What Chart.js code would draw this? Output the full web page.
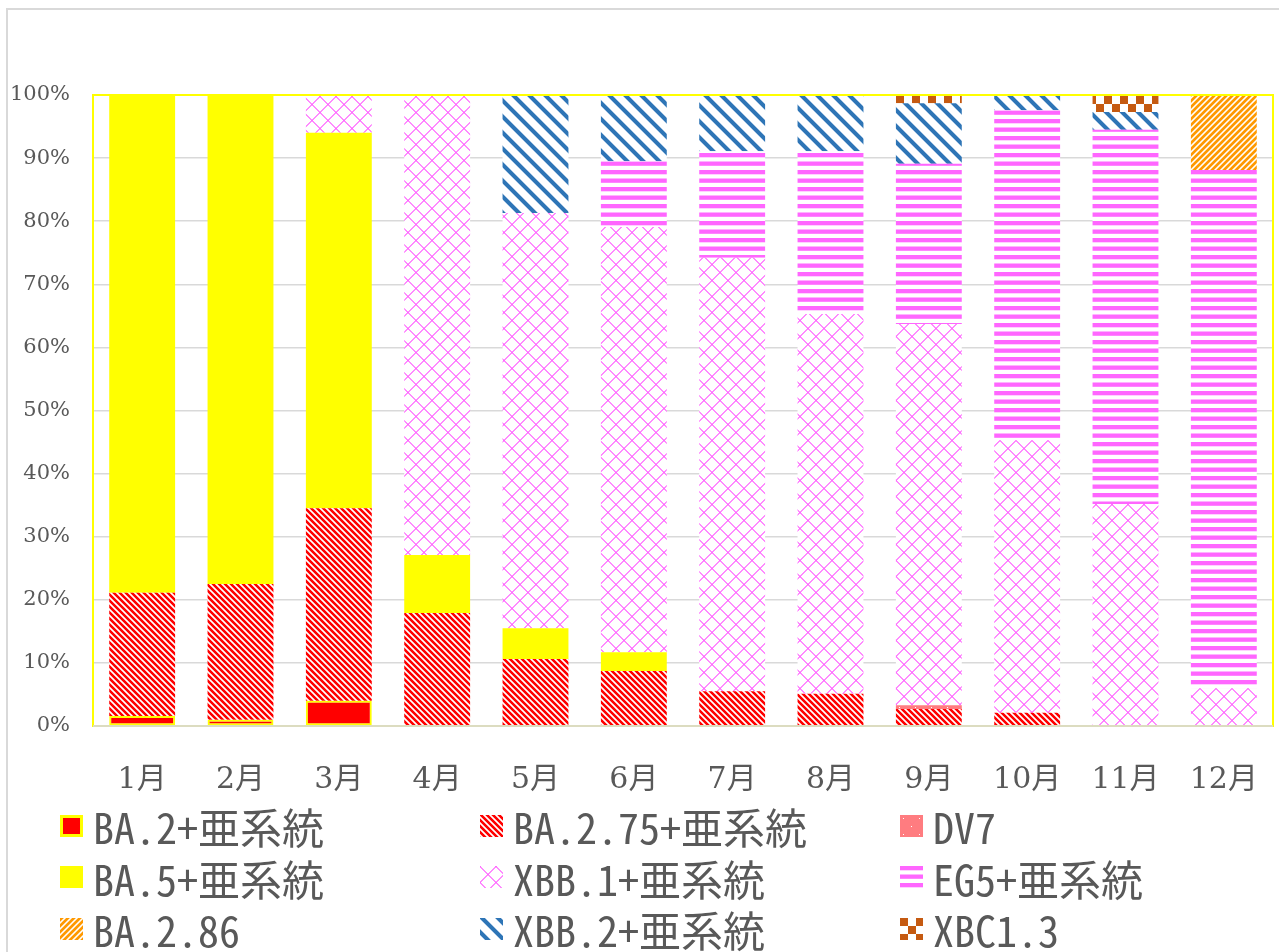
<!DOCTYPE html>
<html>
<head>
<meta charset="utf-8">
<script src="https://cdn.jsdelivr.net/npm/chart.js@4/dist/chart.umd.min.js"></script>
<style>
  html, body { margin: 0; padding: 0; background: #fff; overflow: hidden; }
  #wrap { position: relative; width: 1279px; height: 952px; overflow: hidden; }
  #frame { position: absolute; left: 6px; top: 8px; width: 1300px; height: 980px; border: 2px solid #d9d9d9; box-sizing: border-box; }
  #variant-chart { position: absolute; left: 0; top: 0; }
  #legend {
    position: absolute; left: 60px; top: 800px;
    display: grid; grid-template-columns: 420px 420px 379px; grid-auto-rows: 51.5px;
  }
  .legend__item { display: flex; align-items: center; }
  .legend__swatch { width: 23px; height: 22px; margin-right: 10px; box-sizing: border-box; }
  .legend__text {
    font-family: "Noto Sans Mono CJK JP", "Noto Sans CJK JP", monospace;
    font-size: 42px; line-height: 51px; color: #595959; white-space: nowrap;
  }
</style>
</head>
<body>
<div id="wrap">
  <div id="frame"></div>
  <canvas id="variant-chart" width="1279" height="952"></canvas>
  <div id="legend"></div>
</div>
<script>
const months = ["1月", "2月", "3月", "4月", "5月", "6月", "7月", "8月", "9月", "10月", "11月", "12月"];

const ba2 = [1.6, 1.0, 4.0, null, null, null, null, null, null, null, null, null];
const ba275 = [19.5, 21.5, 30.5, 17.9, 10.6, 8.7, 5.5, 5.1, 2.7, 2.1, 0, 0];
const dv7 = [0, 0, 0, 0, 0, 0, 0, 0, 0.6, 0, 0, 0];
const ba5 = [78.9, 77.5, 59.5, 9.2, 4.9, 3.0, 0, 0, 0, 0, 0, 0];
const xbb1 = [0, 0, 6.0, 72.9, 65.8, 67.4, 68.7, 60.2, 60.4, 43.2, 35.2, 6.0];
const eg5 = [0, 0, 0, 0, 0, 10.4, 16.9, 25.8, 25.4, 52.3, 59.3, 82.1];
const ba286 = [0, 0, 0, 0, 0, 0, 0, 0, 0, 0, 0, 11.9];
const xbb2 = [0, 0, 0, 0, 18.7, 10.5, 8.9, 8.9, 9.6, 2.4, 2.8, 0];
const xbc13 = [0, 0, 0, 0, 0, 0, 0, 0, 1.3, 0, 2.7, 0];

const yTicks = [0, 10, 20, 30, 40, 50, 60, 70, 80, 90, 100];

// small tiles for the excel style fill patterns
function makeTile(w, h, draw) {
  const c = document.createElement("canvas");
  c.width = w;
  c.height = h;
  const g = c.getContext("2d");
  g.fillStyle = "#fff";
  g.fillRect(0, 0, w, h);
  draw(g, w, h);
  return c;
}

function diagonalTile(color, light, period, width, up) {
  return makeTile(period, period, (g) => {
    for (let y = 0; y < period; y++) {
      for (let x = 0; x < period; x++) {
        const d = ((((up ? x + y : x - y)) % period) + period) % period;
        if (d < width) g.fillStyle = color;
        else if (d === width || d === period - 1) g.fillStyle = light;
        else continue;
        g.fillRect(x, y, 1, 1);
      }
    }
  });
}

const tiles = {
  solidRed: makeTile(4, 4, (g) => { g.fillStyle = "#ff0000"; g.fillRect(0, 0, 4, 4); }),
  redDown: diagonalTile("#ff0000", "#ffb3b3", 6, 3, false),
  dv7: makeTile(16, 16, (g) => {
    g.fillStyle = "#ff7c80";
    g.fillRect(0, 0, 16, 16);
    g.fillStyle = "#fff";
    g.fillRect(3, 3, 1, 1);
    g.fillRect(11, 11, 1, 1);
  }),
  solidYellow: makeTile(4, 4, (g) => { g.fillStyle = "#ffff00"; g.fillRect(0, 0, 4, 4); }),
  lattice: makeTile(16, 16, (g) => {
    g.fillStyle = "rgba(255, 90, 255, 0.7)";
    for (let i = 0; i < 16; i++) {
      g.fillRect(i, i, 1, 1);
      g.fillRect(i, (i + 1) % 16, 1, 1);
      g.fillRect(i, 15 - i, 1, 1);
      g.fillRect(i, (16 - i) % 16, 1, 1);
    }
  }),
  eg5: makeTile(4, 17, (g) => {
    g.fillStyle = "#ff66ff";
    g.fillRect(0, 0, 4, 4.3);
    g.fillRect(0, 8.5, 4, 4.3);
  }),
  orangeUp: diagonalTile("#ff9900", "#ffd699", 6, 3, true),
  blueDown: diagonalTile("#2e75b6", "#a9c6e3", 16, 5, false),
  checker: makeTile(16, 16, (g) => {
    g.fillStyle = "#c55a11";
    g.fillRect(0, 0, 8, 8);
    g.fillRect(8, 8, 8, 8);
  }),
};

const ctx = document.getElementById("variant-chart").getContext("2d");
const pat = (t) => ctx.createPattern(t, "repeat");

const series = [
  { label: "BA.2+亜系統", data: ba2, tile: tiles.solidRed, border: "#ffff00" },
  { label: "BA.2.75+亜系統", data: ba275, tile: tiles.redDown },
  { label: "DV7", data: dv7, tile: tiles.dv7 },
  { label: "BA.5+亜系統", data: ba5, tile: tiles.solidYellow },
  { label: "XBB.1+亜系統", data: xbb1, tile: tiles.lattice },
  { label: "EG5+亜系統", data: eg5, tile: tiles.eg5 },
  { label: "BA.2.86", data: ba286, tile: tiles.orangeUp },
  { label: "XBB.2+亜系統", data: xbb2, tile: tiles.blueDown },
  { label: "XBC1.3", data: xbc13, tile: tiles.checker },
];

const plotFrame = {
  id: "plotFrame",
  afterDatasetsDraw(chart) {
    const a = chart.chartArea;
    const g = chart.ctx;
    g.save();
    g.strokeStyle = "#ffff00";
    g.lineWidth = 2;
    g.strokeRect(a.left, a.top, a.right - a.left, a.bottom - a.top);
    g.strokeStyle = "#dcdcc0";
    g.beginPath();
    g.moveTo(a.left, a.bottom);
    g.lineTo(a.right, a.bottom);
    g.stroke();
    g.restore();
  },
};

const serif = "'DejaVu Serif', 'Liberation Serif', 'Noto Sans CJK JP', serif";

new Chart(ctx, {
  type: "bar",
  data: {
    labels: months,
    datasets: series.map((s) => ({
      label: s.label,
      data: s.data,
      backgroundColor: pat(s.tile),
      borderColor: s.border || "rgba(0,0,0,0)",
      borderWidth: s.border ? 2 : 0,
      borderSkipped: false,
      categoryPercentage: 1,
      barPercentage: 0.67,
    })),
  },
  options: {
    responsive: false,
    animation: false,
    layout: { padding: { left: 0, top: 95, right: 6, bottom: 146 } },
    plugins: { legend: { display: false }, tooltip: { enabled: false } },
    scales: {
      x: {
        stacked: true,
        grid: { display: false },
        border: { display: false },
        ticks: {
          color: "#595959",
          padding: 28,
          font: { family: serif, size: 30 },
        },
        afterFit(scale) {
          scale.height = 80;
          scale.paddingLeft = 0;
          scale.paddingRight = 0;
        },
      },
      y: {
        stacked: true,
        min: 0,
        max: 100,
        afterBuildTicks(scale) { scale.ticks = yTicks.map((v) => ({ value: v })); },
        grid: { color: "#d9d9d9", lineWidth: 1.5, drawTicks: false },
        border: { display: false },
        ticks: {
          color: "#595959",
          padding: 23,
          font: { family: serif, size: 21 },
          callback: (v) => v + "%",
        },
        afterFit(scale) { scale.width = 93; },
      },
    },
  },
  plugins: [plotFrame],
});

// html legend, three columns like the excel one
const legend = document.getElementById("legend");
series.forEach((s) => {
  const item = document.createElement("div");
  item.className = "legend__item";
  const sw = document.createElement("canvas");
  sw.className = "legend__swatch";
  sw.width = 23;
  sw.height = 22;
  const g = sw.getContext("2d");
  g.fillStyle = g.createPattern(s.tile, "repeat");
  g.fillRect(0, 0, 23, 22);
  if (s.border) {
    g.strokeStyle = s.border;
    g.lineWidth = 3;
    g.strokeRect(1.5, 1.5, 20, 19);
  }
  const txt = document.createElement("span");
  txt.className = "legend__text";
  txt.textContent = s.label;
  item.appendChild(sw);
  item.appendChild(txt);
  legend.appendChild(item);
});
</script>
</body>
</html>
